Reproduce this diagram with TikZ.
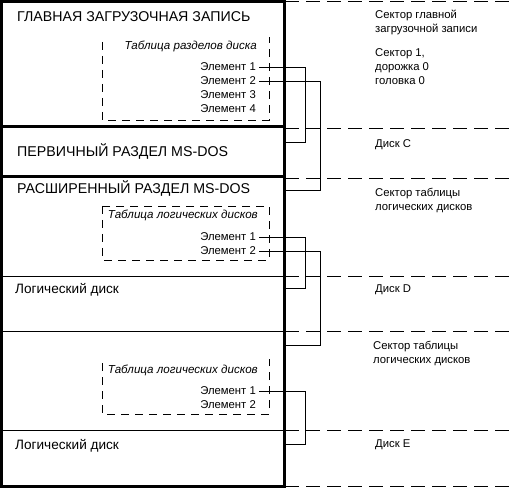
\documentclass[tikz,border=0pt]{standalone}
\usepackage{fontspec}
\setmainfont{Liberation Sans}
\tikzset{%
   sep/.style={dash pattern=on 14pt off 7pt},
   tbl/.style={dash pattern=on 8pt off 6pt},
   thick line/.style={line width=3pt},
   part/.style={anchor=west, inner sep=0pt, font=\fontsize{14.2}{16}\selectfont},
   disk/.style={anchor=west, inner sep=0pt, font=\fontsize{13.6}{15}\selectfont},
   title/.style={anchor=east, inner sep=0pt, font=\fontsize{11.6}{13}\selectfont\itshape},
   elem/.style={anchor=east, inner sep=3pt, font=\fontsize{11.3}{13}\selectfont},
   note/.style={anchor=north west, align=left, inner sep=0pt, font=\fontsize{11.3}{14}\selectfont},
}
\begin{document}
\begin{tikzpicture}[x=1pt,y=-1pt]%
      \useasboundingbox (0,0) rectangle (509,489);
      % ~ separators
      % draw dashed on the right
      \foreach \y in {1.5,128,178,276,331,430,486.5}%
         {%
            \draw[sep] (285,\y) -- (509,\y);%
         }%
      % draw thin inside
      \foreach \y in {276,331,430}%
         {%
            \draw (1.5,\y) -- (284.5,\y);%
         }%
      % ~ disk
      \draw[thick line] (1.5,1.5) rectangle (284.5,486.5);%
      \draw[thick line] (1.5,127) -- (284.5,127);%
      \draw[thick line] (1.5,177) -- (284.5,177);%
      % ~ left texts
      \node[part] (mbr) at (17,17) {ГЛАВНАЯ ЗАГРУЗОЧНАЯ ЗАПИСЬ};
      \node[part] (prim) at (17,152) {ПЕРВИЧНЫЙ РАЗДЕЛ MS-DOS};
      \node[part] (ext) at (17,189) {РАСШИРЕННЫЙ РАЗДЕЛ MS-DOS};
      \node[disk] (logD) at (15,290) {Логический диск};
      \node[disk] (logE) at (15,446) {Логический диск};
      % ~ tables
      % partition table
      \draw[tbl] (102,42) -- (102,120) -- (269,120) -- (269,37);%
      \node[title] (pt) at (257,46) {Таблица разделов диска};
      \foreach \n/\y in {1/67,2/81,3/95,4/109}%
         {%
            \node[elem] (p\n) at (259,\y) {Элемент \n};
         }%
      % logical table D
      \draw[tbl] (102,206) rectangle (269,260);%
      \node[title] (ltD) at (258,215) {Таблица логических дисков};
      \foreach \n/\y in {1/237,2/251}%
         {%
            \node[elem] (d\n) at (259,\y) {Элемент \n};
         }%
      % logical table E
      \draw[tbl] (102,363) -- (102,414) -- (269,414) -- (269,359);%
      \node[title] (ltE) at (258,370) {Таблица логических дисков};
      \foreach \n/\y in {1/391,2/405}%
         {%
            \node[elem] (e\n) at (259,\y) {Элемент \n};
         }%
      % ~ links
      \coordinate (busA) at (305,0);
      \coordinate (busB) at (320,0);
      \coordinate (toC) at (284.5,142);
      \coordinate (toExt) at (284.5,190);
      \coordinate (toD) at (284.5,288);
      \coordinate (toE1) at (284.5,345);
      \coordinate (toE) at (284.5,444);
      \draw (p1.east) -| (busA |- toC) -- (toC);%
      \draw (p2.east) -| (busB |- toExt) -- (toExt);%
      \draw (d1.east) -| (busA |- toD) -- (toD);%
      \draw (d2.east) -| (busB |- toE1) -- (toE1);%
      \draw (e1.east) -| (busA |- toE) -- (toE);%
      % ~ right texts
      \node[note] (nMbr) at (375,10) {Сектор главной\\загрузочной записи};
      \node[note] (nPos) at (375,48) {Сектор 1,\\дорожка 0\\головка 0};
      \node[note] (nC) at (375,139) {Диск C};
      \node[note] (nExt) at (375,188) {Сектор таблицы\\логических дисков};
      \node[note] (nD) at (375,285) {Диск D};
      \node[note] (nExt2) at (373,341) {Сектор таблицы\\логических дисков};
      \node[note] (nE) at (375,440) {Диск E};
         %
   \end{tikzpicture}
\end{document}
